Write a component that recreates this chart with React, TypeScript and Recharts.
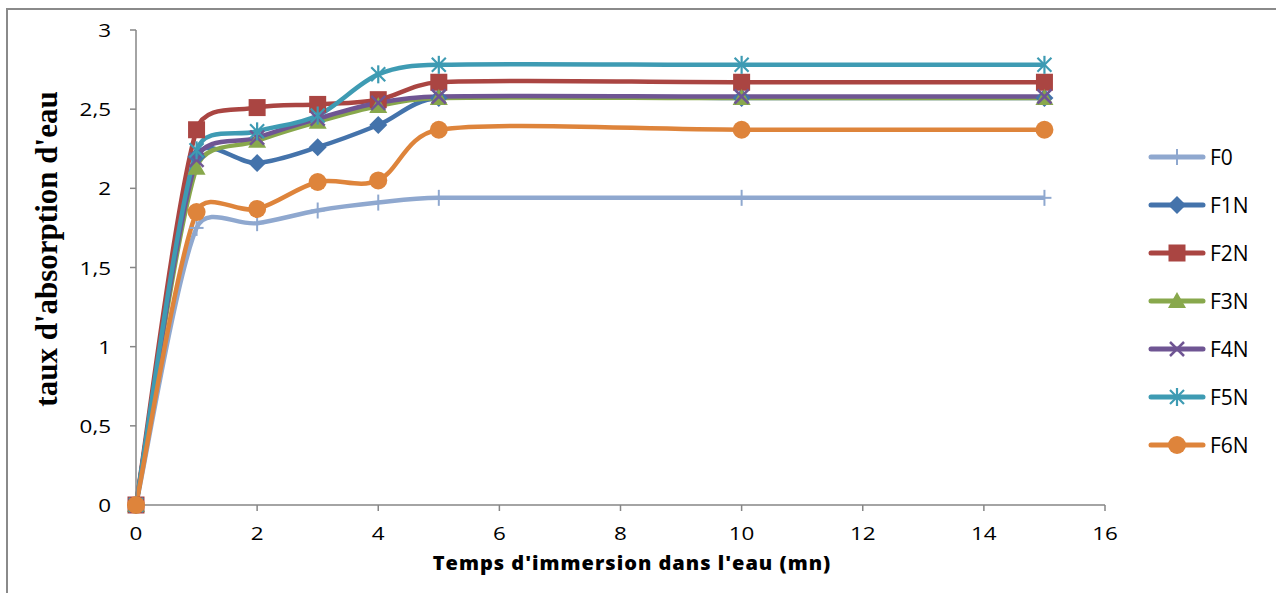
import React from 'react';
import { LineChart, Line, XAxis, YAxis } from 'recharts';

const times = [0, 1, 2, 3, 4, 5, 10, 15];
const F0 = [0, 1.75, 1.78, 1.86, 1.91, 1.94, 1.94, 1.94];
const F1N = [0, 2.2, 2.16, 2.26, 2.4, 2.57, 2.57, 2.57];
const F2N = [0, 2.37, 2.51, 2.53, 2.56, 2.67, 2.67, 2.67];
const F3N = [0, 2.13, 2.3, 2.42, 2.52, 2.57, 2.57, 2.57];
const F4N = [0, 2.18, 2.32, 2.44, 2.54, 2.58, 2.58, 2.58];
const F5N = [0, 2.24, 2.36, 2.46, 2.72, 2.78, 2.78, 2.78];
const F6N = [0, 1.85, 1.87, 2.04, 2.05, 2.37, 2.37, 2.37];
const xTicks = [0, 2, 4, 6, 8, 10, 12, 14, 16];
const yTicks = [0, 0.5, 1, 1.5, 2, 2.5, 3];

const seriesNames = ['F0', 'F1N', 'F2N', 'F3N', 'F4N', 'F5N', 'F6N'];
const seriesValues = [F0, F1N, F2N, F3N, F4N, F5N, F6N];
const colors = ['#8FA8CF', '#4473AB', '#AA4542', '#88A84C', '#6F5593', '#3E9BB3', '#DE843B'];
const markers = ['plus', 'diamond', 'square', 'triangle', 'x', 'star', 'circle'];

const data = times.map((t, i) => {
  const row: any = { t };
  seriesNames.forEach((n, k) => (row[n] = seriesValues[k][i]));
  return row;
});

// Excel-like smoothed line: Catmull-Rom tangents, clamped to a share of each segment
const excelCurve = (context: any) => {
  let pts: number[][] = [];
  return {
    areaStart() {},
    areaEnd() {},
    lineStart() {
      pts = [];
    },
    lineEnd() {
      if (!pts.length) return;
      const n = pts.length;
      const tan = pts.map((p, i) => {
        const a = pts[Math.max(0, i - 1)];
        const b = pts[Math.min(n - 1, i + 1)];
        return [(b[0] - a[0]) / 6, (b[1] - a[1]) / 6];
      });
      const clamp = (t: number[], L: number) => {
        const len = Math.hypot(t[0], t[1]);
        const m = L * 0.42;
        if (len > m && len > 0) return [(t[0] * m) / len, (t[1] * m) / len];
        return t;
      };
      context.moveTo(pts[0][0], pts[0][1]);
      for (let i = 0; i < n - 1; i++) {
        const p1 = pts[i];
        const p2 = pts[i + 1];
        const L = Math.hypot(p2[0] - p1[0], p2[1] - p1[1]);
        const t1 = clamp(tan[i], L);
        const t2 = clamp(tan[i + 1], L);
        context.bezierCurveTo(p1[0] + t1[0], p1[1] + t1[1], p2[0] - t2[0], p2[1] - t2[1], p2[0], p2[1]);
      }
    },
    point(x: number, y: number) {
      pts.push([x, y]);
    },
  };
};

const Marker = ({ kind, cx, cy, color }: any) => {
  switch (kind) {
    case 'plus':
      return (
        <g stroke={color} strokeWidth={2}>
          <line x1={cx} y1={cy - 8} x2={cx} y2={cy + 8} />
          <line x1={cx - 7} y1={cy} x2={cx + 7} y2={cy} />
        </g>
      );
    case 'diamond':
      return <polygon points={`${cx},${cy - 9} ${cx + 9},${cy} ${cx},${cy + 9} ${cx - 9},${cy}`} fill={color} />;
    case 'square':
      return <rect x={cx - 8.5} y={cy - 8.5} width={17} height={17} fill={color} />;
    case 'triangle':
      return <polygon points={`${cx},${cy - 9} ${cx + 9},${cy + 7} ${cx - 9},${cy + 7}`} fill={color} />;
    case 'x':
      return (
        <g stroke={color} strokeWidth={2.5}>
          <line x1={cx - 7} y1={cy - 7} x2={cx + 7} y2={cy + 7} />
          <line x1={cx - 7} y1={cy + 7} x2={cx + 7} y2={cy - 7} />
        </g>
      );
    case 'star':
      return (
        <g stroke={color} strokeWidth={2.2}>
          <line x1={cx - 7} y1={cy - 7} x2={cx + 7} y2={cy + 7} />
          <line x1={cx - 7} y1={cy + 7} x2={cx + 7} y2={cy - 7} />
          <line x1={cx} y1={cy - 9} x2={cx} y2={cy + 9} />
        </g>
      );
    default:
      return <circle cx={cx} cy={cy} r={9} fill={color} />;
  }
};

const tickFont = 'Open Sans, sans-serif';

const XTick = ({ x, y, payload }: any) => (
  <text transform={`translate(${x},${y + 27}) scale(1.18,1)`} textAnchor="middle" fontSize={19} fontFamily={tickFont} fill="#000">
    {payload.value}
  </text>
);

const YTick = ({ x, y, payload }: any) => (
  <text transform={`translate(${x - 17},${y + 7}) scale(1.18,1)`} textAnchor="end" fontSize={19} fontFamily={tickFont} fill="#000">
    {String(payload.value).replace('.', ',')}
  </text>
);

const LegendBox = () => (
  <svg width={130} height={330} style={{ position: 'absolute', left: 1143, top: 135 }}>
    {seriesNames.map((n, i) => {
      const y = 22 + i * 48;
      return (
        <g key={n}>
          <line x1={8} y1={y} x2={60} y2={y} stroke={colors[i]} strokeWidth={5} strokeLinecap="round" />
          <Marker kind={markers[i]} cx={34} cy={y} color={colors[i]} />
          <text x={67} y={y + 7.5} fontSize={21} fontFamily={tickFont} fill="#000">
            {n}
          </text>
        </g>
      );
    })}
  </svg>
);

export default function App() {
  return (
    <div style={{ position: 'absolute', left: 0, top: 0, width: 1276, height: 593, overflow: 'hidden', background: '#fff' }}>
      <div
        style={{
          position: 'absolute',
          left: 6,
          top: 8,
          width: 1300,
          height: 620,
          borderLeft: '2px solid #8a8a8a',
          borderTop: '2px solid #8a8a8a',
        }}
      />
      <div style={{ position: 'absolute', left: 0, top: 0 }}>
        <LineChart width={1276} height={593} data={data} margin={{ top: 30, right: 171, bottom: 28, left: 0 }}>
          <XAxis
            dataKey="t"
            type="number"
            domain={[0, 16]}
            ticks={xTicks}
            interval={0}
            height={60}
            tickSize={6}
            axisLine={{ stroke: '#868686', strokeWidth: 1.5 }}
            tickLine={{ stroke: '#868686', strokeWidth: 1.5 }}
            tick={<XTick />}
            label={{
              content: () => (
                <text
                  x={632}
                  y={570}
                  textAnchor="middle"
                  fontFamily="Open Sans, sans-serif"
                  fontWeight={800}
                  fontSize={20}
                  letterSpacing={1}
                  fill="#000"
                >
                  Temps d'immersion dans l'eau (mn)
                </text>
              ),
            }}
          />
          <YAxis
            type="number"
            domain={[0, 3]}
            ticks={yTicks}
            interval={0}
            width={136}
            tickSize={6}
            axisLine={{ stroke: '#868686', strokeWidth: 1.5 }}
            tickLine={{ stroke: '#868686', strokeWidth: 1.5 }}
            tick={<YTick />}
            label={{
              content: () => (
                <text
                  transform="translate(57,249) rotate(-90)"
                  textAnchor="middle"
                  fontFamily="Liberation Serif, serif"
                  fontWeight="bold"
                  fontSize={31}
                  fill="#000"
                >
                  taux d'absorption d'eau
                </text>
              ),
            }}
          />
          {seriesNames.map((n, i) => (
            <Line
              key={n}
              dataKey={n}
              type={excelCurve as any}
              stroke={colors[i]}
              strokeWidth={4.5}
              isAnimationActive={false}
              activeDot={false}
              dot={(p: any) => <Marker key={`${n}-${p.index}`} kind={markers[i]} cx={p.cx} cy={p.cy} color={colors[i]} />}
            />
          ))}
        </LineChart>
      </div>
      <LegendBox />
    </div>
  );
}
